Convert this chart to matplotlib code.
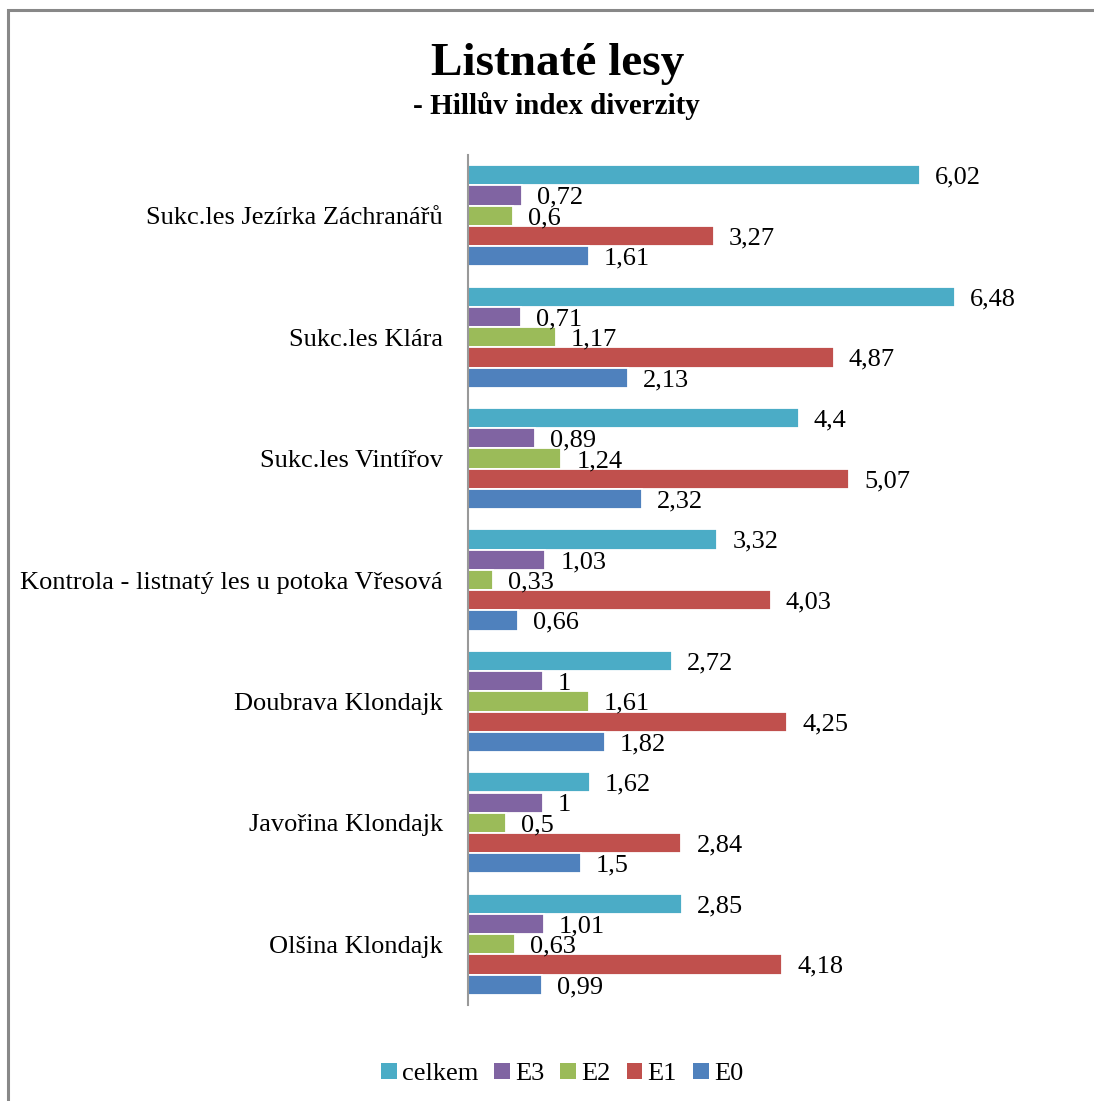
import matplotlib
matplotlib.use("Agg")
import matplotlib.pyplot as plt
from matplotlib.patches import Rectangle, Patch

plt.rcParams['font.family'] = ['Liberation Serif', 'DejaVu Serif']

categories = [
    "Sukc.les Jezírka Záchranářů",
    "Sukc.les Klára",
    "Sukc.les Vintířov",
    "Kontrola - listnatý les u potoka Vřesová",
    "Doubrava Klondajk",
    "Javořina Klondajk",
    "Olšina Klondajk",
]
series_names = ["celkem", "E3", "E2", "E1", "E0"]
celkem = [6.02, 6.48, 4.4, 3.32, 2.72, 1.62, 2.85]
e3 = [0.72, 0.71, 0.89, 1.03, 1, 1, 1.01]
e2 = [0.6, 1.17, 1.24, 0.33, 1.61, 0.5, 0.63]
e1 = [3.27, 4.87, 5.07, 4.03, 4.25, 2.84, 4.18]
e0 = [1.61, 2.13, 2.32, 0.66, 1.82, 1.5, 0.99]
series_values = [celkem, e3, e2, e1, e0]
colors = ["#4BACC6", "#8064A2", "#9BBB59", "#C0504D", "#4F81BD"]

W, H = 1094, 1101
fig = plt.figure(figsize=(W / 100, H / 100), dpi=100)

# chart frame (right/bottom edges run off the canvas)
fig.patches.append(Rectangle((8 / W, -0.05), 1.2, (H - 10) / H + 0.05,
                             transform=fig.transFigure, fill=False,
                             edgecolor="#888888", linewidth=2.2, zorder=0))

ax = fig.add_axes([468 / W, (H - 1005) / H, 601 / W, 850 / H])
n_cat = len(categories)
slots = len(series_names) + 1

def fmt(v):
    s = f"{v:.2f}".rstrip("0").rstrip(".")
    return s.replace(".", ",")

for k, (name, vals, col) in enumerate(zip(series_names, series_values, colors)):
    ys = [slots * i + 1 + k for i in range(n_cat)]
    ax.barh(ys, vals, height=1.0, color=col, edgecolor="white",
            linewidth=1.3, label=name)
    for y, v in zip(ys, vals):
        ax.text(v + 0.2, y + 0.12, fmt(v), va="center", ha="left",
                fontsize=19, color="black")

ax.set_xlim(0, 8)
ax.set_ylim(slots * n_cat, 0)
ax.set_yticks([slots * i + 3 for i in range(n_cat)])
ax.set_yticklabels(categories, fontsize=19)
ax.tick_params(axis="y", length=0, pad=18)
ax.set_xticks([])
for s in ["top", "right", "bottom"]:
    ax.spines[s].set_visible(False)
ax.spines["left"].set_color("#999999")
ax.spines["left"].set_linewidth(1.5)

fig.text(558 / W, 1 - 64 / H, "Listnaté lesy", ha="center", va="center",
         fontsize=34, fontweight="bold")
fig.text(556 / W, 1 - 106 / H, "- Hillův index diverzity", ha="center",
         va="center", fontsize=21, fontweight="bold")

handles = [Patch(facecolor=c, edgecolor="none") for c in colors]
fig.legend(handles, series_names, loc="center", bbox_to_anchor=(562 / W, 1 - 1074 / H),
           ncol=5, frameon=False, fontsize=19, handlelength=0.6,
           handleheight=0.6, handletextpad=0.2, columnspacing=0.6)

fig.savefig("out.png", dpi=100)
